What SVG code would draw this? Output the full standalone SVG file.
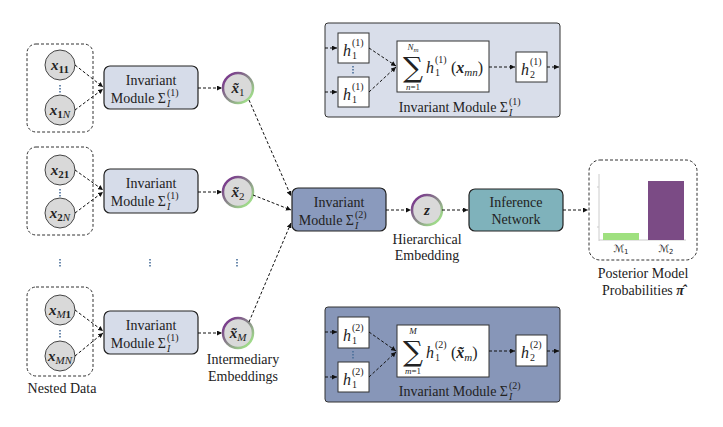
<svg xmlns="http://www.w3.org/2000/svg" width="723" height="427" viewBox="0 0 723 427">
<defs>
<linearGradient id="ring" x1="0" y1="0" x2="1" y2="1">
<stop offset="0.15" stop-color="#7b3f8c"/>
<stop offset="0.5" stop-color="#8a8a8a"/>
<stop offset="0.85" stop-color="#9fd98a"/>
</linearGradient>
<marker id="ah" viewBox="0 0 6 6" refX="6" refY="3" markerWidth="5" markerHeight="5" orient="auto" markerUnits="userSpaceOnUse">
<path d="M0,0 L6,3 L0,6 z" fill="#111"/>
</marker>
<style>
text{font-family:"Liberation Serif","DejaVu Serif",serif;fill:#222}
.lbl{font-size:14px}
.sm{font-size:10px}
.mi{font-style:italic;font-weight:bold}
.it{font-style:italic}
.sum{font-family:"DejaVu Serif",serif;font-size:28px}
.scr{font-family:"DejaVu Sans",sans-serif;font-size:10px}
.grp{fill:none;stroke:#333;stroke-width:1;stroke-dasharray:3,2}
.node{fill:#d9d9d9;stroke:url(#ring);stroke-width:2.5}
.mod1{fill:#d6dce9;stroke:#222;stroke-width:1.2}
.mod2{fill:#8a9abd;stroke:#222;stroke-width:1.2}
.inf{fill:#7fb2bb;stroke:#222;stroke-width:1.2}
.dat{fill:#d9d9d9;stroke:#444;stroke-width:1}
.wb{fill:#fff;stroke:#333;stroke-width:1}
.con{fill:none;stroke:#111;stroke-width:1;stroke-dasharray:3,2;marker-end:url(#ah)}
.dots{stroke:#4a6f9a;stroke-width:1.6;stroke-dasharray:1.5,1.5}
</style>
</defs>
<rect width="723" height="427" fill="#fff"/>

<!-- Data groups -->
<g id="data1">
<rect class="grp" x="27" y="44" width="66" height="88" rx="9"/>
<circle class="dat" cx="60" cy="65" r="15"/>
<circle class="dat" cx="60" cy="110" r="15"/>
<line class="dots" x1="60" y1="85" x2="60" y2="94"/>
<text x="60" y="70" text-anchor="middle" font-size="15"><tspan class="mi">x</tspan><tspan font-size="11" font-weight="bold" dy="3">11</tspan></text>
<text x="60" y="115" text-anchor="middle" font-size="15"><tspan class="mi">x</tspan><tspan font-size="11" font-weight="bold" dy="3">1</tspan><tspan font-size="11" class="it">N</tspan></text>
</g>
<g id="data2">
<rect class="grp" x="27" y="147" width="66" height="88" rx="9"/>
<circle class="dat" cx="60" cy="170" r="15"/>
<circle class="dat" cx="60" cy="213" r="15"/>
<line class="dots" x1="60" y1="189" x2="60" y2="197"/>
<text x="60" y="175" text-anchor="middle" font-size="15"><tspan class="mi">x</tspan><tspan font-size="11" font-weight="bold" dy="3">21</tspan></text>
<text x="60" y="218" text-anchor="middle" font-size="15"><tspan class="mi">x</tspan><tspan font-size="11" font-weight="bold" dy="3">2</tspan><tspan font-size="11" class="it">N</tspan></text>
</g>
<g id="dataM">
<rect class="grp" x="27" y="287" width="66" height="89" rx="9"/>
<circle class="dat" cx="60" cy="310" r="15"/>
<circle class="dat" cx="60" cy="356" r="15"/>
<line class="dots" x1="60" y1="330" x2="60" y2="338"/>
<text x="60" y="315" text-anchor="middle" font-size="15"><tspan class="mi">x</tspan><tspan font-size="11" class="it" dy="3">M</tspan><tspan font-size="11" font-weight="bold">1</tspan></text>
<text x="60" y="361" text-anchor="middle" font-size="15"><tspan class="mi">x</tspan><tspan font-size="11" class="it" dy="3">MN</tspan></text>
</g>
<text x="62" y="393" text-anchor="middle" class="lbl">Nested Data</text>

<!-- vertical ellipses -->
<g id="ellipsis">
<line class="dots" x1="60" y1="259" x2="60" y2="267"/>
<line class="dots" x1="150" y1="259" x2="150" y2="267"/>
<line class="dots" x1="237" y1="259" x2="237" y2="267"/>
</g>

<!-- Invariant modules level 1 -->
<g id="mod1a">
<rect class="mod1" x="104" y="66" width="94" height="43" rx="6"/>
<text x="151" y="85" text-anchor="middle" class="lbl">Invariant</text>
<text x="166" y="103" text-anchor="end" class="lbl">Module Σ</text>
<text x="167" y="96" class="sm">(1)</text>
<text x="167" y="107" class="sm it">I</text>
</g>
<g id="mod1b">
<rect class="mod1" x="104" y="169" width="94" height="44" rx="6"/>
<text x="151" y="188" text-anchor="middle" class="lbl">Invariant</text>
<text x="166" y="206" text-anchor="end" class="lbl">Module Σ</text>
<text x="167" y="199" class="sm">(1)</text>
<text x="167" y="210" class="sm it">I</text>
</g>
<g id="mod1M">
<rect class="mod1" x="104" y="311" width="94" height="43" rx="6"/>
<text x="151" y="330" text-anchor="middle" class="lbl">Invariant</text>
<text x="166" y="348" text-anchor="end" class="lbl">Module Σ</text>
<text x="167" y="341" class="sm">(1)</text>
<text x="167" y="352" class="sm it">I</text>
</g>

<!-- intermediary embeddings -->
<g id="emb1">
<circle class="node" cx="238" cy="88" r="15"/>
<text x="238" y="93" text-anchor="middle" font-size="15"><tspan class="mi">x̃</tspan><tspan font-size="11" dy="3">1</tspan></text>
</g>
<g id="emb2">
<circle class="node" cx="238" cy="192" r="15"/>
<text x="238" y="197" text-anchor="middle" font-size="15"><tspan class="mi">x̃</tspan><tspan font-size="11" dy="3">2</tspan></text>
</g>
<g id="embM">
<circle class="node" cx="238" cy="333" r="15"/>
<text x="238" y="338" text-anchor="middle" font-size="15"><tspan class="mi">x̃</tspan><tspan font-size="11" class="it" dy="3">M</tspan></text>
</g>
<text x="243" y="364" text-anchor="middle" class="lbl">Intermediary</text>
<text x="243" y="381" text-anchor="middle" class="lbl">Embeddings</text>

<!-- central module -->
<g id="mod2">
<rect class="mod2" x="292" y="188" width="94" height="43" rx="6"/>
<text x="339" y="207" text-anchor="middle" class="lbl">Invariant</text>
<text x="354" y="225" text-anchor="end" class="lbl">Module Σ</text>
<text x="355" y="218" class="sm">(2)</text>
<text x="355" y="229" class="sm it">I</text>
</g>

<g id="z">
<circle class="node" cx="427" cy="210" r="15"/>
<text x="427" y="215" text-anchor="middle" font-size="15" class="mi">z</text>
<text x="427" y="244" text-anchor="middle" class="lbl">Hierarchical</text>
<text x="427" y="260" text-anchor="middle" class="lbl">Embedding</text>
</g>

<g id="inference">
<rect class="inf" x="469" y="189" width="94" height="42" rx="6"/>
<text x="516" y="207" text-anchor="middle" class="lbl">Inference</text>
<text x="516" y="224" text-anchor="middle" class="lbl">Network</text>
</g>

<g id="posterior">
<rect class="grp" x="589" y="160" width="108" height="100" rx="11"/>
<line x1="599" y1="174" x2="599" y2="241" stroke="#ccc" stroke-width="1"/>
<line x1="599" y1="240" x2="686" y2="240" stroke="#ccc" stroke-width="1"/>
<line x1="597" y1="187" x2="599" y2="187" stroke="#ccc"/>
<line x1="597" y1="227" x2="599" y2="227" stroke="#ccc"/>
<rect x="603" y="233" width="36" height="7" fill="#9fe07f"/>
<rect x="648" y="181" width="36" height="59" fill="#7b4b85"/>
<text x="621" y="252" text-anchor="middle" class="scr">ℳ<tspan font-size="7" dy="1.5">1</tspan></text>
<text x="666" y="252" text-anchor="middle" class="scr">ℳ<tspan font-size="7" dy="1.5">2</tspan></text>
<text x="643" y="278" text-anchor="middle" class="lbl">Posterior Model</text>
<text x="643" y="295" text-anchor="middle" class="lbl">Probabilities <tspan class="mi">π̂</tspan></text>
</g>

<!-- top detail box -->
<g id="detail1">
<rect x="325" y="23" width="235" height="94" rx="3" fill="#d9deea" stroke="#333" stroke-width="1"/>
<rect class="wb" x="338" y="33" width="31" height="30"/>
<rect class="wb" x="338" y="77" width="31" height="30"/>
<line class="dots" x1="353" y1="66" x2="353" y2="74"/>
<text x="343" y="56" font-size="16" class="it">h</text><text x="352" y="46" class="sm">(1)</text><text x="352" y="59" class="sm">1</text>
<text x="343" y="100" font-size="16" class="it">h</text><text x="352" y="90" class="sm">(1)</text><text x="352" y="103" class="sm">1</text>
<rect class="wb" x="397" y="41" width="92" height="51"/>
<text x="413" y="50" text-anchor="middle" font-size="9" class="it">N<tspan font-size="7" dy="2">m</tspan></text>
<text x="413" y="77" text-anchor="middle" class="sum">∑</text>
<text x="413" y="90" text-anchor="middle" font-size="9"><tspan class="it">n</tspan>=1</text>
<text x="426" y="73" font-size="16"><tspan class="it">h</tspan></text><text x="435" y="63" class="sm">(1)</text><text x="435" y="76" class="sm">1</text>
<text x="451" y="73" font-size="16">(<tspan class="mi">x</tspan><tspan font-size="11" class="it" dy="3">mn</tspan><tspan dy="-3">)</tspan></text>
<rect class="wb" x="516" y="52" width="31" height="30"/>
<text x="521" y="75" font-size="16" class="it">h</text><text x="530" y="65" class="sm">(1)</text><text x="530" y="78" class="sm">2</text>
<text x="508" y="112" text-anchor="end" class="lbl">Invariant Module Σ</text>
<text x="509" y="105" class="sm">(1)</text>
<text x="509" y="116" class="sm it">I</text>
</g>

<!-- bottom detail box -->
<g id="detail2">
<rect x="325" y="307" width="235" height="95" rx="3" fill="#8796b8" stroke="#333" stroke-width="1"/>
<rect class="wb" x="338" y="317" width="31" height="31"/>
<rect class="wb" x="338" y="362" width="31" height="30"/>
<line class="dots" x1="353" y1="351" x2="353" y2="359"/>
<text x="343" y="341" font-size="16" class="it">h</text><text x="352" y="331" class="sm">(2)</text><text x="352" y="344" class="sm">1</text>
<text x="343" y="385" font-size="16" class="it">h</text><text x="352" y="375" class="sm">(2)</text><text x="352" y="388" class="sm">1</text>
<rect class="wb" x="397" y="325" width="92" height="52"/>
<text x="413" y="334" text-anchor="middle" font-size="9" class="it">M</text>
<text x="413" y="361" text-anchor="middle" class="sum">∑</text>
<text x="413" y="374" text-anchor="middle" font-size="9"><tspan class="it">m</tspan>=1</text>
<text x="426" y="358" font-size="16"><tspan class="it">h</tspan></text><text x="435" y="348" class="sm">(2)</text><text x="435" y="361" class="sm">1</text>
<text x="451" y="358" font-size="16">(<tspan class="mi">x̃</tspan><tspan font-size="11" class="it" dy="3">m</tspan><tspan dy="-3">)</tspan></text>
<rect class="wb" x="516" y="335" width="31" height="31"/>
<text x="521" y="358" font-size="16" class="it">h</text><text x="530" y="348" class="sm">(2)</text><text x="530" y="361" class="sm">2</text>
<text x="508" y="396" text-anchor="end" class="lbl">Invariant Module Σ</text>
<text x="509" y="389" class="sm">(2)</text>
<text x="509" y="400" class="sm it">I</text>
</g>

<!-- connectors -->
<g id="connectors">
<line class="con" x1="75" y1="65" x2="103" y2="87"/>
<line class="con" x1="75" y1="110" x2="103" y2="89"/>
<line class="con" x1="75" y1="170" x2="103" y2="190"/>
<line class="con" x1="75" y1="213" x2="103" y2="192"/>
<line class="con" x1="75" y1="310" x2="103" y2="331"/>
<line class="con" x1="75" y1="356" x2="103" y2="333"/>
<line class="con" x1="198" y1="88" x2="222" y2="88"/>
<line class="con" x1="198" y1="192" x2="222" y2="192"/>
<line class="con" x1="198" y1="333" x2="222" y2="333"/>
<line class="con" x1="249" y1="100" x2="291" y2="196"/>
<line class="con" x1="253" y1="195" x2="291" y2="210"/>
<line class="con" x1="249" y1="322" x2="291" y2="223"/>
<line class="con" x1="386" y1="210" x2="411" y2="210"/>
<line class="con" x1="442" y1="210" x2="468" y2="210"/>
<line class="con" x1="563" y1="210" x2="588" y2="210"/>
<line class="con" x1="325" y1="48" x2="337" y2="48"/>
<line class="con" x1="325" y1="92" x2="337" y2="92"/>
<line class="con" x1="369" y1="48" x2="396" y2="66"/>
<line class="con" x1="369" y1="92" x2="396" y2="67"/>
<line class="con" x1="489" y1="67" x2="515" y2="67"/>
<line class="con" x1="547" y1="67" x2="559" y2="67"/>
<line class="con" x1="325" y1="332" x2="337" y2="332"/>
<line class="con" x1="325" y1="377" x2="337" y2="377"/>
<line class="con" x1="369" y1="332" x2="396" y2="351"/>
<line class="con" x1="369" y1="377" x2="396" y2="352"/>
<line class="con" x1="489" y1="351" x2="515" y2="351"/>
<line class="con" x1="547" y1="351" x2="559" y2="351"/>
</g>
</svg>
